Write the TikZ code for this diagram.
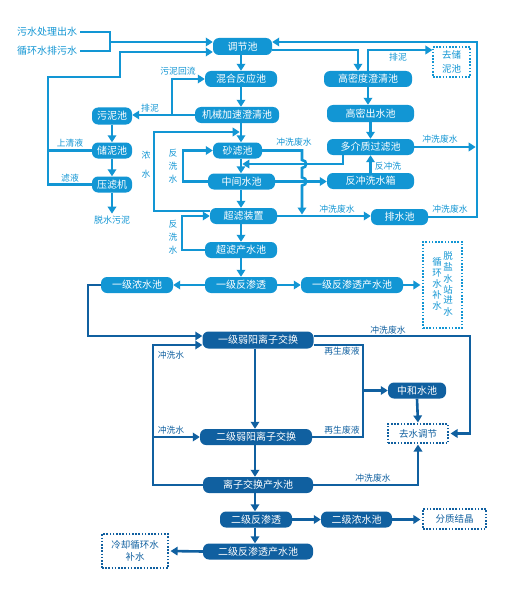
\documentclass[tikz,border=0pt]{standalone}
\usepackage{fontspec}
\newfontfamily\cjk{Noto Sans CJK SC}
\usetikzlibrary{arrows.meta,calc}
\definecolor{lb}{RGB}{18,150,212}
\definecolor{db}{RGB}{16,96,160}
\begin{document}
\begin{tikzpicture}[x=1pt,y=-1pt,
  bx/.style={fill=lb,rounded corners=6pt,text=white,font=\cjk\fontsize{10}{11}\selectfont,minimum height=16pt,inner sep=1pt},
  dbx/.style={bx,fill=db},
  dsh/.style={draw=lb,line width=1.1pt,dash pattern=on 1.6pt off 1.6pt,text=lb,font=\cjk\fontsize{9.5}{13}\selectfont,inner sep=1pt,align=center},
  ddsh/.style={dsh,draw=db,text=db},
  lbl/.style={text=lb,font=\cjk\fontsize{8.8}{13}\selectfont,inner sep=0pt,align=center},
  dlbl/.style={lbl,text=db},
  ln/.style={draw=lb,line width=2.6pt},
  arr/.style={ln,-{Triangle[length=7pt,width=8.5pt]}},
  dln/.style={ln,draw=db},
  darr/.style={arr,draw=db},
]
\useasboundingbox (0,0) rectangle (517,599);
\fill[white] (0,0) rectangle (517,599);
% ---------- upper nodes ----------
\node[lbl,font=\cjk\fontsize{10}{11}\selectfont,inner sep=3pt] (in1) at (47,32) {污水处理出水};
\node[lbl,font=\cjk\fontsize{10}{11}\selectfont,inner sep=3pt] (in2) at (47,51) {循环水排污水};
\node[bx,minimum width=59pt,minimum height=17pt] (tj) at (242.5,46.5) {调节池};
\node[bx,minimum width=72pt] (hh) at (241,79) {混合反应池};
\node[bx,minimum width=84pt] (jx) at (237,115) {机械加速澄清池};
\node[bx,minimum width=49pt] (ss) at (237.5,150.5) {砂滤池};
\node[bx,minimum width=67pt] (zj) at (241.5,181.5) {中间水池};
\node[bx,minimum width=67pt] (cl) at (243.5,216) {超滤装置};
\node[bx,minimum width=72pt] (cc) at (241,250) {超滤产水池};
\node[bx,minimum width=72pt] (ro1) at (241,285) {一级反渗透};
\node[bx,minimum width=72pt] (nc1) at (137,285) {一级浓水池};
\node[bx,minimum width=102pt] (rp1) at (352,285) {一级反渗透产水池};
\node[dsh,minimum width=39pt,minimum height=86pt] (tsw) at (442.5,285)
  {\fontsize{9.5}{12}\selectfont\def\arraystretch{0.86}\begin{tabular}[c]{@{}c@{}}循\\环\\水\\补\\水\end{tabular}\hspace{1.5pt}\begin{tabular}[c]{@{}c@{}}脱\\盐\\水\\站\\进\\水\end{tabular}};
\node[bx,minimum width=88pt] (hm) at (368,79) {高密度澄清池};
\node[bx,minimum width=87pt,minimum height=17pt] (hc) at (370.5,113.5) {高密出水池};
\node[dsh,minimum width=37pt,minimum height=30pt,font=\cjk\fontsize{9.5}{14}\selectfont] (qc) at (451.5,62) {去储\\泥池};
\node[bx,minimum width=87pt] (dj) at (370.5,147) {多介质过滤池};
\node[bx,minimum width=87pt] (fx) at (370.5,181) {反冲洗水箱};
\node[bx,minimum width=57pt] (ps) at (399.5,217) {排水池};
\node[bx,minimum width=40pt,minimum height=17pt] (wn) at (112,116) {污泥池};
\node[bx,minimum width=40pt] (cn) at (112,150.5) {储泥池};
\node[bx,minimum width=40pt] (yl) at (112,184.5) {压滤机};
\node[lbl,font=\cjk\fontsize{9}{11}\selectfont] (ts) at (112,220) {脱水污泥};
% ---------- lower nodes ----------
\node[dbx,minimum width=111pt,minimum height=17pt] (y1) at (258,340) {一级弱阳离子交换};
\node[dbx,minimum width=112pt] (y2) at (256,437) {二级弱阳离子交换};
\node[dbx,minimum width=58pt] (zh) at (417,390.5) {中和水池};
\node[ddsh,minimum width=60pt,minimum height=19pt] (qs) at (418,433.5) {去水调节};
\node[dbx,minimum width=110pt] (lc) at (258,485) {离子交换产水池};
\node[dbx,minimum width=72pt] (ro2) at (256,519.5) {二级反渗透};
\node[dbx,minimum width=71pt] (nc2) at (356.5,519.5) {二级浓水池};
\node[ddsh,minimum width=63pt,minimum height=20pt] (fz) at (454.5,519) {分质结晶};
\node[dbx,minimum width=110pt] (rp2) at (258,551.5) {二级反渗透产水池};
\node[ddsh,minimum width=66pt,minimum height=34pt,font=\cjk\fontsize{9.5}{12.5}\selectfont] (lq) at (135,551) {冷却循环水\\补水};
% ---------- coordinates ----------
\coordinate (cx) at (241,0);
\coordinate (cx2) at (255,0);
\coordinate (j1) at (110,42);
\coordinate (r1) at (48,77);
\coordinate (r2) at (120,52);
\coordinate (h1) at (172,79);
\coordinate (n1) at (154,132);
\coordinate (f1) at (183,150.5);
\coordinate (f2) at (182,216);
\coordinate (w1) at (302,0);
\coordinate (m1) at (343,164);
\coordinate (p1) at (368,50);
\coordinate (p3) at (358,50);
\coordinate (e1) at (477,42);
\coordinate (k1) at (88,336);
\coordinate (k2) at (153,345);
\coordinate (k4) at (470,336);
\coordinate (k5) at (363,345);
% ---------- upper connectors ----------
\draw[ln] (in1.east) -| (j1);
\draw[ln] (in2.east) -| (j1);
\draw[arr] (j1) -- (j1 -| tj.west);
\draw[arr] (yl.west) -| (r1) -| (r2) -- (r2 -| tj.west);
\draw[ln] (cn.west) -- (cn.west -| r1);
\foreach \a/\b in {tj/hh,hh/jx,jx/ss,ss/zj,zj/cl,cl/cc,cc/ro1}
  \draw[arr] (\a.south -| cx) -- (\b.north -| cx);
\draw[arr] (jx.west) -- (jx.west -| wn.east);
\draw[arr] (jx.west -| h1) -- (h1) -- (hh.west);
\draw[arr] (wn.south) -- (cn.north);
\draw[arr] (cn.south) -- (yl.north);
\draw[arr,shorten >=2pt] (yl.south) -- (ts.north);
\draw[arr,shorten >=1.3pt] ($(cl.west)+(0,-5)$) -| (n1) -- (n1 -| cx);
\draw[arr] (zj.west) -| (f1) -- (f1 -| ss.west);
\draw[arr] (cc.west) -| (f2) -- (f2 -| cl.west);
\draw[arr,shorten >=1.5pt] (ss.east) -- (ss.east -| w1) -- ++(0,9.5)
  .. controls +(5.5,0) and +(5.5,0) .. ++(0,8) -- ++(0,9.5)
  .. controls +(5.5,0) and +(5.5,0) .. ++(0,8) -- (w1 |- cl.east);
\draw[arr,shorten >=1.3pt] (dj.south -| m1) -- (m1) -- (m1 -| cx);
\draw[arr] (zj.east) -- (zj.east -| fx.west);
\draw[arr] (fx.north) -- (dj.south);
\draw[arr] (hc.south) -- (dj.north);
\draw[arr] (hm.south -| p1) -- (hc.north -| p1);
\draw[arr] (hm.north -| p1) -- (p1) -- (p1 -| qc.west);
\draw[arr] (tj.east |- p3) -- (p3) -- (p3 |- hm.north);
\draw[arr,shorten >=1.3pt] (dj.east) -- (dj.east -| e1);
\draw[arr] (ps.east) -| (e1) -- (e1 -| tj.east);
\draw[arr] (cl.east) -- (cl.east -| ps.west);
\draw[arr] (ro1.west) -- (nc1.east);
\draw[arr] (ro1.east) -- (rp1.west);
\draw[arr,shorten >=2pt] (rp1.east) -- (tsw.west);
% ---------- lower connectors ----------
\draw[darr] (nc1.west) -| (k1) -- (k1 -| y1.west);
\draw[darr] (lc.west) -| (k2) -- (k2 -| y1.west);
\draw[darr] (y2.west -| k2) -- (y2.west);
\draw[darr] (y1.south -| cx2) -- (y2.north -| cx2);
\draw[darr] (y2.south -| cx2) -- (lc.north -| cx2);
\draw[darr] (lc.south -| cx2) -- (ro2.north -| cx2);
\draw[darr] (ro2.south -| cx2) -- (rp2.north -| cx2);
\draw[darr] (ro2.east) -- (nc2.west);
\draw[darr,shorten >=2pt] (nc2.east) -- (nc2.east -| fz.west);
\draw[darr,shorten >=2pt] (rp2.west) -- (lq.east);
\draw[darr,shorten >=2pt] (y1.east |- k4) -- (k4) |- (qs.east);
\draw[dln] (y1.east |- k5) -- (k5) -- (k5 |- y2.east) -- (y2.east);
\draw[darr] (k5 |- zh.west) -- (zh.west);
\draw[darr,shorten >=1pt] (zh.south) -- (qs.north);
\draw[darr,shorten >=1pt] (lc.east) -| (qs.south);
% ---------- labels ----------
\node[lbl] at (178,71) {污泥回流};
\node[lbl] at (150,108) {排泥};
\node[lbl] at (70,143) {上清液};
\node[lbl] at (70,178) {滤液};
\node[lbl,font=\cjk\fontsize{8.8}{19}\selectfont] at (146,165) {浓\\水};
\node[lbl] at (173,166) {反\\洗\\水};
\node[lbl] at (173,237) {反\\洗\\水};
\node[lbl] at (294,142) {冲洗废水};
\node[lbl] at (398,57) {排泥};
\node[lbl] at (440,139) {冲洗废水};
\node[lbl] at (388,166) {反冲洗};
\node[lbl] at (337,209) {冲洗废水};
\node[lbl] at (450,209) {冲洗废水};
\node[dlbl] at (388,330) {冲洗废水};
\node[dlbl] at (342,351) {再生废液};
\node[dlbl] at (342,430) {再生废液};
\node[dlbl] at (171,355) {冲洗水};
\node[dlbl] at (171,430) {冲洗水};
\node[dlbl] at (373,478) {冲洗废水};
\end{tikzpicture}
\end{document}
